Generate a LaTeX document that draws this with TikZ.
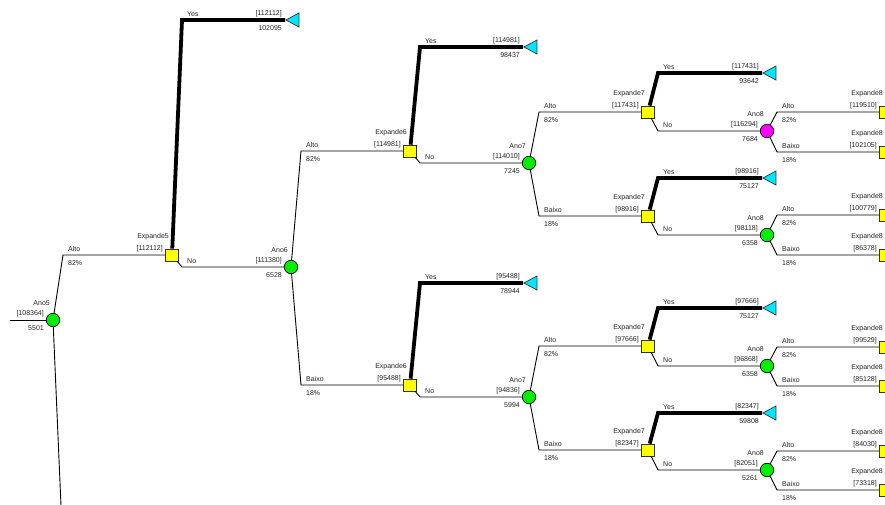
\documentclass[tikz,border=0pt]{standalone}
\usepackage{fontspec}
\setmainfont{Liberation Sans}
\usepackage{tikz}
\usetikzlibrary{positioning,calc,shapes.geometric}
\definecolor{verde}{RGB}{0,238,0}
\definecolor{rosa}{RGB}{255,0,255}
\definecolor{amarelo}{RGB}{255,255,0}
\definecolor{ciano}{RGB}{0,230,255}
\definecolor{texto}{RGB}{35,35,35}

% no de acaso: nome, posicao, cor, titulo, valor, ev
\newcommand{\acaso}[6]{%
  \node[acaso, fill=#3] (#1) at (#2) {};
  \node[rot, anchor=east] (#1-tit) at ($(#1)+(-3,-17)$) {#4};
  \node[rot, anchor=east] (#1-val) at ($(#1)+(-9,-6)$) {#5};
  \node[rot, anchor=east] (#1-ev) at ($(#1)+(-9,8)$) {#6};}
% no de decisao: nome, posicao, titulo, valor
\newcommand{\decisao}[4]{%
  \node[decisao] (#1) at (#2) {};
  \node[rot, anchor=east] (#1-tit) at ($(#1)+(-3,-18)$) {#3};
  \node[rot, anchor=east] (#1-val) at ($(#1)+(-9,-6)$) {#4};}
% no terminal: nome, ponta, valor, ev
\newcommand{\final}[4]{%
  \node[final, anchor=apex] (#1) at (#2) {};
  \node[rot, anchor=east] (#1-val) at ($(#1.apex)+(-3,-6)$) {#3};
  \node[rot, anchor=east] (#1-ev) at ($(#1.apex)+(-3,8)$) {#4};}
% ramo: de, para, estilo, canto, rotulo acima, rotulo abaixo
\newcommand{\ramo}[6]{%
  \path (#1) ++(10,0) coordinate (#4-x);
  \coordinate (#4) at (#4-x |- #2);
  \draw[#3] (#1) -- (#4) -- (#2);
  \node[rot, anchor=west] (#4-a) at ($(#4)+(5,-6)$) {#5};
  \node[rot, anchor=west] (#4-b) at ($(#4)+(5,8)$) {#6};}

\begin{document}
\begin{tikzpicture}[x=1pt, y=-1pt,
  rot/.style={font=\fontsize{7}{8}\selectfont, text=texto, inner sep=0pt},
  acaso/.style={circle, draw=black, line width=0.7pt, minimum size=13.5pt, inner sep=0pt},
  decisao/.style={rectangle, draw=black!80, fill=amarelo, line width=0.7pt,
                  minimum width=13pt, minimum height=12pt, inner sep=0pt},
  final/.style={isosceles triangle, isosceles triangle stretches, shape border rotate=180,
                draw=black!80, fill=ciano, line width=0.7pt,
                minimum width=14pt, minimum height=13pt, inner sep=0pt},
  linha/.style={line width=0.9pt, draw=black},
  sim/.style={line width=3.8pt, draw=black}]
  \useasboundingbox (0,0) rectangle (885,504);
  \clip (0,0) rectangle (885,504);

  % nos de acaso e de decisao
  \acaso{ano5}{53,320}{verde}{Ano5}{[108364]}{5501}
  \decisao{exp5}{172,255}{Expande5}{[112112]}
  \acaso{ano6}{291,267}{verde}{Ano6}{[111380]}{6528}
  \decisao{exp6a}{410,151}{Expande6}{[114981]}
  \decisao{exp6b}{410,385}{Expande6}{[95488]}
  \acaso{ano7a}{529,163}{verde}{Ano7}{[114010]}{7245}
  \acaso{ano7b}{529,397}{verde}{Ano7}{[94836]}{5994}
  \decisao{exp7a}{648,112}{Expande7}{[117431]}
  \decisao{exp7b}{648,216}{Expande7}{[98916]}
  \decisao{exp7c}{648,346}{Expande7}{[97666]}
  \decisao{exp7d}{648,450}{Expande7}{[82347]}
  \acaso{ano8a}{767,131}{rosa}{Ano8}{[116294]}{7684}
  \acaso{ano8b}{767,235}{verde}{Ano8}{[98118]}{6358}
  \acaso{ano8c}{767,366}{verde}{Ano8}{[96868]}{6358}
  \acaso{ano8d}{767,470}{verde}{Ano8}{[82051]}{5261}
  \decisao{exp8a}{886,112}{Expande8}{[119510]}
  \decisao{exp8b}{886,152}{Expande8}{[102105]}
  \decisao{exp8c}{886,215}{Expande8}{[100779]}
  \decisao{exp8d}{886,255}{Expande8}{[86378]}
  \decisao{exp8e}{886,347}{Expande8}{[99529]}
  \decisao{exp8f}{886,386}{Expande8}{[85128]}
  \decisao{exp8g}{886,451}{Expande8}{[84030]}
  \decisao{exp8h}{886,490}{Expande8}{[73318]}

  % terminais
  \final{t5}{285,20}{[112112]}{102095}
  \final{t6a}{523,47}{[114981]}{98437}
  \final{t6b}{523,283}{[95488]}{78944}
  \final{t7a}{762,73}{[117431]}{93642}
  \final{t7b}{762,178}{[98916]}{75127}
  \final{t7c}{762,308}{[97666]}{75127}
  \final{t7d}{762,413}{[82347]}{59808}

  % ramos
  \coordinate (entrada) at (10,320);
  \coordinate (ano5-baixo) at (63,552);
  \draw[linha] (entrada) -- (ano5);
  \draw[linha] (ano5) -- (ano5-baixo);
  \ramo{ano5}{exp5}{linha}{c5}{Alto}{82\%}
  \ramo{exp5}{t5.apex}{sim}{c5s}{Yes}{}
  \ramo{exp5}{ano6}{linha}{c5n}{No}{}
  \ramo{ano6}{exp6a}{linha}{c6a}{Alto}{82\%}
  \ramo{ano6}{exp6b}{linha}{c6b}{Baixo}{18\%}
  \ramo{exp6a}{t6a.apex}{sim}{c6as}{Yes}{}
  \ramo{exp6a}{ano7a}{linha}{c6an}{No}{}
  \ramo{exp6b}{t6b.apex}{sim}{c6bs}{Yes}{}
  \ramo{exp6b}{ano7b}{linha}{c6bn}{No}{}
  \ramo{ano7a}{exp7a}{linha}{c7a}{Alto}{82\%}
  \ramo{ano7a}{exp7b}{linha}{c7b}{Baixo}{18\%}
  \ramo{ano7b}{exp7c}{linha}{c7c}{Alto}{82\%}
  \ramo{ano7b}{exp7d}{linha}{c7d}{Baixo}{18\%}
  \ramo{exp7a}{t7a.apex}{sim}{c7as}{Yes}{}
  \ramo{exp7a}{ano8a}{linha}{c7an}{No}{}
  \ramo{exp7b}{t7b.apex}{sim}{c7bs}{Yes}{}
  \ramo{exp7b}{ano8b}{linha}{c7bn}{No}{}
  \ramo{exp7c}{t7c.apex}{sim}{c7cs}{Yes}{}
  \ramo{exp7c}{ano8c}{linha}{c7cn}{No}{}
  \ramo{exp7d}{t7d.apex}{sim}{c7ds}{Yes}{}
  \ramo{exp7d}{ano8d}{linha}{c7dn}{No}{}
  \ramo{ano8a}{exp8a}{linha}{c8a}{Alto}{82\%}
  \ramo{ano8a}{exp8b}{linha}{c8b}{Baixo}{18\%}
  \ramo{ano8b}{exp8c}{linha}{c8c}{Alto}{82\%}
  \ramo{ano8b}{exp8d}{linha}{c8d}{Baixo}{18\%}
  \ramo{ano8c}{exp8e}{linha}{c8e}{Alto}{82\%}
  \ramo{ano8c}{exp8f}{linha}{c8f}{Baixo}{18\%}
  \ramo{ano8d}{exp8g}{linha}{c8g}{Alto}{82\%}
  \ramo{ano8d}{exp8h}{linha}{c8h}{Baixo}{18\%}
\end{tikzpicture}
\end{document}
